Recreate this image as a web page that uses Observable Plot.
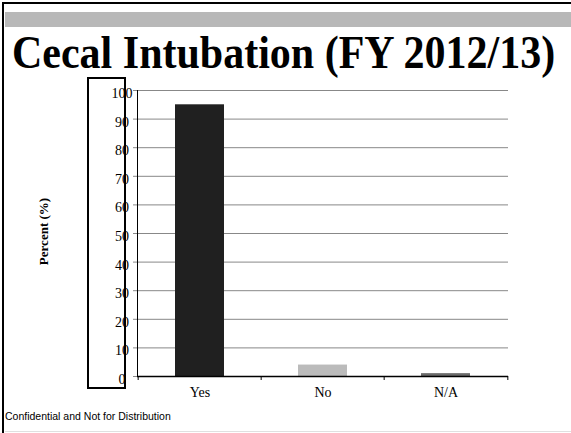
<!DOCTYPE html>
<html><head><meta charset="utf-8">
<script src="https://cdn.jsdelivr.net/npm/d3@7"></script>
<script src="https://cdn.jsdelivr.net/npm/@observablehq/plot@0.6"></script>
<style>
body{margin:0;background:#fff;}
#slide{position:relative;width:571px;height:433px;overflow:hidden;background:#fff;}
#slide svg{position:absolute;left:0;top:0;}
.topborder{position:absolute;left:2px;top:2px;right:0;height:2px;background:#000}
.leftborder{position:absolute;left:2px;top:2px;bottom:0;width:2px;background:#000}
.graybar{position:absolute;left:5px;top:12px;right:0;height:15px;background:#b8b8b8}
.bottomline{position:absolute;left:5px;right:0;top:431px;height:1px;background:#e0e0e0}
.title{position:absolute;left:12px;top:32.5px;font:bold 42px/42px "Liberation Serif","Times New Roman",serif;white-space:nowrap;transform:scaleY(1.1);transform-origin:0 35px;color:#000}
.footer{position:absolute;left:5px;top:409.5px;font:10.5px/12px "Liberation Sans",Arial,sans-serif;white-space:nowrap;color:#000}
.box{position:absolute;left:87px;top:77px;width:39px;height:312px;border:2px solid #000;box-sizing:border-box}
</style>
</head><body>
<div id="slide">
  <div class="topborder"></div>
  <div class="leftborder"></div>
  <div class="graybar"></div>
  <div class="bottomline"></div>
  <div class="title" id="title"></div>
  <div class="footer" id="footer"></div>
  <div id="chart"></div>
  <div class="box"></div>
</div>
<script>
const titleText = "Cecal Intubation (FY 2012/13)";
const footerText = "Confidential and Not for Distribution";
const yLabel = "Percent (%)";
const categories = ["Yes", "No", "N/A"];
const values = [95, 4, 1];
const colors = ["#202020", "#bbbbbb", "#6b6b6b"];
const yTicks = [0, 10, 20, 30, 40, 50, 60, 70, 80, 90, 100];

document.getElementById("title").textContent = titleText;
document.getElementById("footer").textContent = footerText;

const data = categories.map((c, i) => ({category: c, value: values[i]}));
const W = 571, H = 433, mL = 137, mR = 63, mT = 90, mB = 57;
const step = (W - mL - mR) / categories.length;

const chart = Plot.plot({
  width: W, height: H,
  marginLeft: mL, marginRight: mR, marginTop: mT, marginBottom: mB,
  style: {background: "transparent", fontFamily: "'Liberation Serif','Times New Roman',serif", fontSize: "14px", color: "#000", overflow: "visible"},
  x: {domain: categories, paddingInner: 0.6, paddingOuter: 0.3, axis: null},
  y: {domain: [0, 100], axis: null},
  color: {domain: categories, range: colors},
  marks: [
    Plot.ruleY(yTicks, {stroke: "#888", strokeWidth: 1, insetLeft: -4}),
    Plot.barY(data, {x: "category", y: "value", fill: "category"}),
    Plot.frame({anchor: "left", stroke: "#000", strokeWidth: 1}),
    Plot.ruleY([0], {stroke: "#000", strokeWidth: 1.5}),
    Plot.ruleX(categories, {x: d => d, y1: 0, y2: 0, insetBottom: -4, dx: -step / 2, stroke: "#000"}),
    Plot.ruleX([categories[categories.length - 1]], {x: d => d, y1: 0, y2: 0, insetBottom: -4, dx: step / 2, stroke: "#000"}),
    Plot.text(yTicks, {y: d => d, text: d => String(d), frameAnchor: "left", dx: -15.5, dy: 3, textAnchor: "middle", fontSize: 14}),
    Plot.axisX({tickSize: 0, tickPadding: 11, label: null, fontSize: 14}),
    Plot.text([yLabel], {frameAnchor: "left", textAnchor: "middle", rotate: -90, dx: -93.5, dy: -2, fontWeight: "bold", fontSize: 13})
  ]
});
document.getElementById("chart").appendChild(chart);
</script>
</body></html>
